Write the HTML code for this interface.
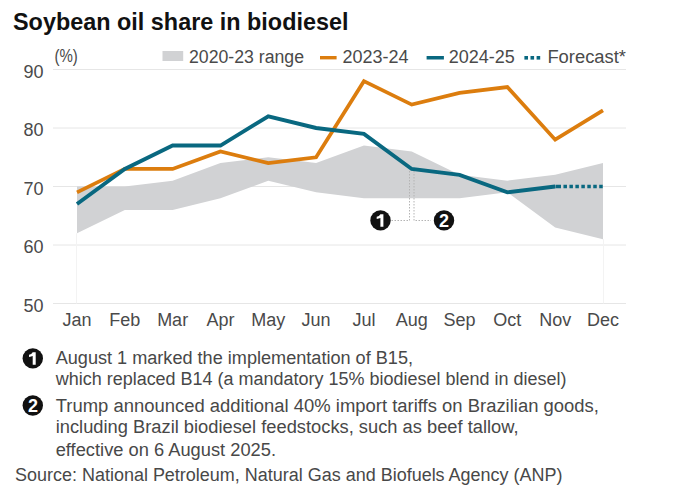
<!DOCTYPE html>
<html><head><meta charset="utf-8"><style>
html,body{margin:0;padding:0;background:#fff;width:677px;height:489px;overflow:hidden}
svg{display:block}
text{font-family:"Liberation Sans",sans-serif;fill:#333333}
.ax{font-size:18px;fill:#4a4a4a}
.title{font-size:24px;font-weight:bold;fill:#111}
.note{font-size:17.6px;fill:#484848}
.num{font-size:18px;font-weight:bold;fill:#fff}
</style></head><body>
<svg width="677" height="489" viewBox="0 0 677 489">
<line x1="53" y1="69.50" x2="626" y2="69.50" stroke="#e6e6e6" stroke-width="1"/>
<text x="43.5" y="77.80" text-anchor="end" class="ax">90</text>
<line x1="53" y1="128.00" x2="626" y2="128.00" stroke="#e6e6e6" stroke-width="1"/>
<text x="43.5" y="136.30" text-anchor="end" class="ax">80</text>
<line x1="53" y1="186.50" x2="626" y2="186.50" stroke="#e6e6e6" stroke-width="1"/>
<text x="43.5" y="194.80" text-anchor="end" class="ax">70</text>
<line x1="53" y1="245.00" x2="626" y2="245.00" stroke="#e6e6e6" stroke-width="1"/>
<text x="43.5" y="253.30" text-anchor="end" class="ax">60</text>
<line x1="53" y1="303.50" x2="626" y2="303.50" stroke="#e6e6e6" stroke-width="1"/>
<text x="43.5" y="311.80" text-anchor="end" class="ax">50</text>
<line x1="76.5" y1="233.3" x2="76.5" y2="303.5" stroke="#f3f3f3" stroke-width="1"/>
<line x1="603.5" y1="239.2" x2="603.5" y2="303.5" stroke="#f3f3f3" stroke-width="1"/>
<polygon points="77.00,186.50 124.82,186.50 172.64,180.65 220.45,163.10 268.27,157.25 316.09,163.10 363.91,145.55 411.73,151.40 459.55,174.80 507.36,180.65 555.18,174.80 603.00,163.10 603.00,239.15 555.18,227.45 507.36,192.35 459.55,198.20 411.73,198.20 363.91,198.20 316.09,192.35 268.27,180.65 220.45,198.20 172.64,209.90 124.82,209.90 77.00,233.30" fill="#d1d2d4"/>
<line x1="603.00" y1="186.50" x2="626" y2="186.50" stroke="#e6e6e6" stroke-width="1"/>
<path d="M409.5 171.0 V220.5 H391.5 M414 171.0 V220.5 H431" fill="none" stroke="#b4b4b4" stroke-width="1" stroke-dasharray="1.5 1.5"/>
<circle cx="380.5" cy="220.4" r="10.2" fill="#111"/><path d="M380.40 214.20 H383.40 V226.80 H380.40 V218.00 Q378.90 218.80 376.70 218.90 V216.80 Q379.30 216.60 380.40 214.20 Z" fill="#fff"/>
<circle cx="444" cy="220.4" r="10.2" fill="#111"/><text x="444.10" y="226.90" text-anchor="middle" class="num">2</text>
<polyline points="77.00,192.35 124.82,168.95 172.64,168.95 220.45,151.40 268.27,163.10 316.09,157.25 363.91,81.20 411.73,104.60 459.55,92.90 507.36,87.05 555.18,139.70 603.00,110.45" fill="none" stroke="#dc7d0e" stroke-width="3.7" stroke-linejoin="miter" stroke-linecap="butt"/>
<polyline points="77.00,204.05 124.82,168.95 172.64,145.55 220.45,145.55 268.27,116.30 316.09,128.00 363.91,133.85 411.73,168.95 459.55,174.80 507.36,192.35 555.18,186.50" fill="none" stroke="#096880" stroke-width="3.9" stroke-linejoin="miter"/>
<line x1="555.5" y1="186.50" x2="603" y2="186.50" stroke="#096880" stroke-width="3.6" stroke-dasharray="5.5 2.46 3.5 2.46 3.5 2.46 3.5 2.46 3.5 2.46 3.5 2.46 3.5 2.46 3.5 10"/>
<text x="77.00" y="325.5" text-anchor="middle" class="ax">Jan</text>
<text x="124.82" y="325.5" text-anchor="middle" class="ax">Feb</text>
<text x="172.64" y="325.5" text-anchor="middle" class="ax">Mar</text>
<text x="220.45" y="325.5" text-anchor="middle" class="ax">Apr</text>
<text x="268.27" y="325.5" text-anchor="middle" class="ax">May</text>
<text x="316.09" y="325.5" text-anchor="middle" class="ax">Jun</text>
<text x="363.91" y="325.5" text-anchor="middle" class="ax">Jul</text>
<text x="411.73" y="325.5" text-anchor="middle" class="ax">Aug</text>
<text x="459.55" y="325.5" text-anchor="middle" class="ax">Sep</text>
<text x="507.36" y="325.5" text-anchor="middle" class="ax">Oct</text>
<text x="555.18" y="325.5" text-anchor="middle" class="ax">Nov</text>
<text x="603.00" y="325.5" text-anchor="middle" class="ax">Dec</text>
<text x="13" y="30" class="title" textLength="335.5" lengthAdjust="spacingAndGlyphs">Soybean oil share in biodiesel</text>
<text x="54.4" y="61.9" class="ax" textLength="23.4" lengthAdjust="spacingAndGlyphs">(%)</text>
<rect x="162.5" y="51" width="20.7" height="10" fill="#d1d2d4"/>
<text x="189" y="62.7" class="ax" textLength="115" lengthAdjust="spacingAndGlyphs">2020-23 range</text>
<rect x="320" y="56" width="16.6" height="3.4" fill="#dc7d0e"/>
<text x="342.5" y="62.7" class="ax">2023-24</text>
<rect x="426.6" y="56" width="17.3" height="3.5" fill="#096880"/>
<text x="448.8" y="62.7" class="ax">2024-25</text>
<rect x="524.4" y="56" width="3.6" height="3.6" fill="#096880"/>
<rect x="530.5" y="56" width="3.6" height="3.6" fill="#096880"/>
<rect x="536.6" y="56" width="3.6" height="3.6" fill="#096880"/>
<text x="547.4" y="62.7" class="ax" textLength="78.6" lengthAdjust="spacingAndGlyphs">Forecast*</text>
<circle cx="32.8" cy="358.4" r="10.2" fill="#111"/><path d="M32.70 352.20 H35.70 V364.80 H32.70 V356.00 Q31.20 356.80 29.00 356.90 V354.80 Q31.60 354.60 32.70 352.20 Z" fill="#fff"/>
<circle cx="32.8" cy="405.5" r="10.2" fill="#111"/><text x="32.90" y="412.00" text-anchor="middle" class="num">2</text>
<text x="55.7" y="364" class="note" textLength="357.3" lengthAdjust="spacingAndGlyphs">August 1 marked the implementation of B15,</text>
<text x="55.7" y="385.2" class="note" textLength="510.7" lengthAdjust="spacingAndGlyphs">which replaced B14 (a mandatory 15% biodiesel blend in diesel)</text>
<text x="55.7" y="411.9" class="note" textLength="543.2" lengthAdjust="spacingAndGlyphs">Trump announced additional 40% import tariffs on Brazilian goods,</text>
<text x="55.7" y="433" class="note" textLength="462.9" lengthAdjust="spacingAndGlyphs">including Brazil biodiesel feedstocks, such as beef tallow,</text>
<text x="55.7" y="455.5" class="note" textLength="220.3" lengthAdjust="spacingAndGlyphs">effective on 6 August 2025.</text>
<text x="15" y="481" class="note" textLength="547.5" lengthAdjust="spacingAndGlyphs">Source: National Petroleum, Natural Gas and Biofuels Agency (ANP)</text>
</svg>
</body></html>
